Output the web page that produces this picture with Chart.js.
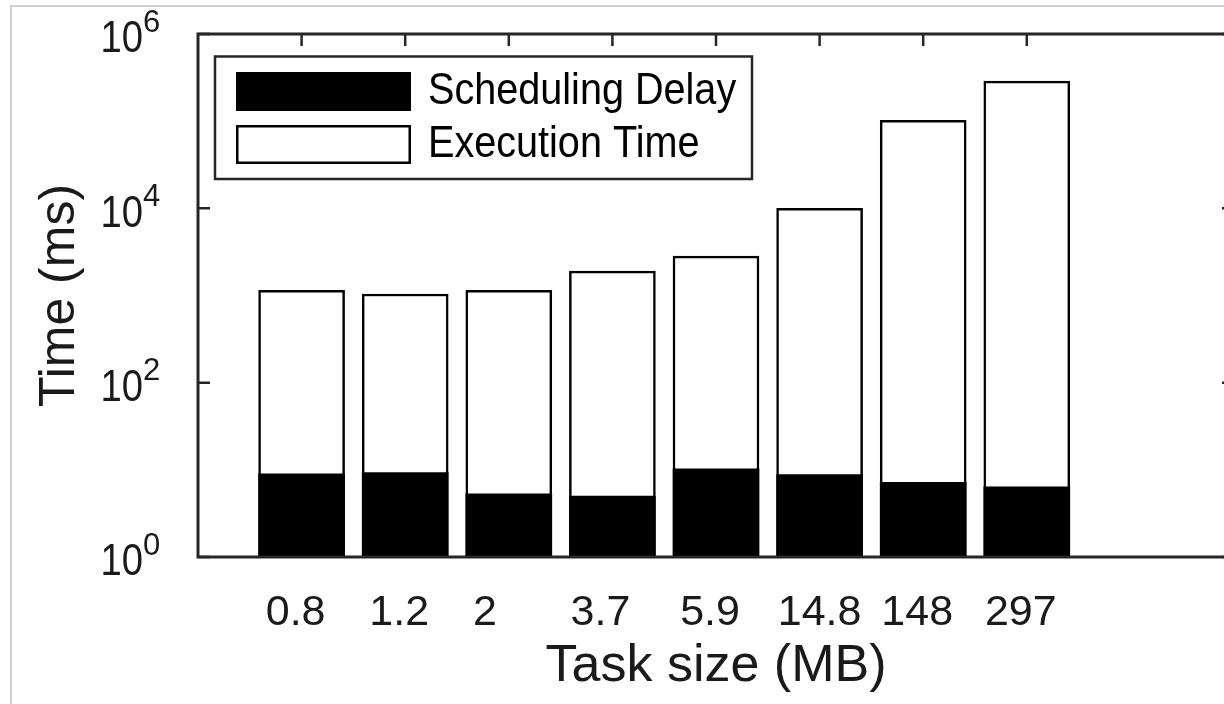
<!DOCTYPE html>
<html>
<head>
<meta charset="utf-8">
<title>Scheduling delay vs execution time</title>
<script src="https://cdn.jsdelivr.net/npm/chart.js@4.4.1/dist/chart.umd.min.js"></script>
<style>
  html, body { margin: 0; padding: 0; background: #fff; overflow: hidden; }
  #wrap { position: relative; width: 1224px; height: 704px; overflow: hidden; }
  #page-edge { position: absolute; left: 10px; top: 5px; right: -20px; bottom: -20px;
               border-left: 2px solid #d0d0d0; border-top: 2px solid #d0d0d0; pointer-events: none; }
  canvas { position: absolute; left: 0; top: 0; }
</style>
</head>
<body>
<div id="wrap">
  <canvas id="chart" width="1250" height="704"></canvas>
  <div id="page-edge"></div>
</div>
<script>
// Task sizes (MB) shown under each bar
const taskSizes = ['0.8 ', '1.2 ', '2    ', '3.7  ', '5.9 ', '14.8', '148 ', '297 '];
// Bar slot of each task size along the x axis
const slots = [1, 2, 3, 4, 5, 6, 7, 8];
// Scheduling delay per task (ms)
const schedulingDelay = [9.0, 9.3, 5.3, 5.0, 10.3, 8.8, 7.2, 6.4];
// Execution time per task (ms)
const executionTime = [1150, 1040, 1150, 1900, 2830, 10000, 102000, 288000];
// Decade exponents labelled on the time axis
const yTickExponents = [0, 2, 4, 6];

const FONT = '"Liberation Sans", Arial, Helvetica, sans-serif';
const TEXT = '#1a1a1a';
const AXIS = '#262626';

// Box around the plot with inward tick marks
const frameTicks = {
  id: 'frameTicks',
  afterDatasetsDraw(chart) {
    const { ctx, chartArea: a, scales: { x, y } } = chart;
    ctx.save();
    ctx.strokeStyle = AXIS;
    ctx.lineWidth = 3;
    ctx.strokeRect(a.left, a.top, a.right - a.left, a.bottom - a.top);
    ctx.lineWidth = 2.5;
    ctx.beginPath();
    slots.forEach(v => {
      const px = x.getPixelForValue(v);
      ctx.moveTo(px, a.top); ctx.lineTo(px, a.top + 12);
    });
    yTickExponents.forEach(e => {
      const py = y.getPixelForValue(Math.pow(10, e));
      ctx.moveTo(a.left, py); ctx.lineTo(a.left + 12, py);
      ctx.moveTo(a.right, py); ctx.lineTo(a.right - 12, py);
    });
    ctx.stroke();
    ctx.restore();
  },
  afterDraw(chart) {
    const { ctx, scales: { y } } = chart;
    ctx.save();
    ctx.fillStyle = TEXT;
    // power-of-ten labels: a slightly narrow "10" with a raised exponent
    yTickExponents.forEach(e => {
      const py = y.getPixelForValue(Math.pow(10, e));
      ctx.save();
      ctx.translate(143, py + 6);
      ctx.scale(0.85, 1);
      ctx.font = '45px ' + FONT;
      ctx.textAlign = 'right';
      ctx.textBaseline = 'middle';
      ctx.fillText('10', 0, 0);
      ctx.restore();
      ctx.font = '31px ' + FONT;
      ctx.textAlign = 'left';
      ctx.textBaseline = 'middle';
      ctx.fillText(String(e), 143, py - 11);
    });
    ctx.restore();
  }
};

// Framed legend in the upper-left corner of the plot
const boxedLegend = {
  id: 'boxedLegend',
  afterDraw(chart) {
    const { ctx } = chart;
    const ds = chart.data.datasets;
    ctx.save();
    ctx.strokeStyle = AXIS;
    ctx.lineWidth = 2.5;
    ctx.fillStyle = '#fff';
    ctx.fillRect(215, 56.5, 537, 122.5);
    ctx.strokeRect(215, 56.5, 537, 122.5);
    const rows = [91.5, 144.5];
    ds.forEach((d, i) => {
      const cy = rows[i];
      ctx.fillStyle = d.backgroundColor;
      ctx.fillRect(236, cy - 19.5, 175, 39);
      if (d.borderWidth) {
        ctx.lineWidth = d.borderWidth;
        ctx.strokeStyle = d.borderColor;
        ctx.strokeRect(236 + 1.25, cy - 19.5 + 1.25, 175 - 2.5, 39 - 2.5);
      }
      ctx.save();
      ctx.translate(428, cy);
      ctx.scale(0.9, 1);
      ctx.fillStyle = '#000';
      ctx.font = '44px ' + FONT;
      ctx.textAlign = 'left';
      ctx.textBaseline = 'middle';
      ctx.fillText(d.label, 0, 0);
      ctx.restore();
    });
    ctx.restore();
  }
};

new Chart(document.getElementById('chart'), {
  type: 'bar',
  data: {
    datasets: [
      {
        label: 'Scheduling Delay',
        data: slots.map((s, i) => ({ x: s, y: schedulingDelay[i] })),
        backgroundColor: '#000000',
        borderWidth: 0,
        barThickness: 86,
        grouped: false
      },
      {
        label: 'Execution Time',
        data: slots.map((s, i) => ({ x: s, y: executionTime[i] })),
        backgroundColor: '#ffffff',
        borderColor: '#000000',
        borderWidth: 2.5,
        borderSkipped: 'start',
        barThickness: 86,
        grouped: false
      }
    ]
  },
  options: {
    responsive: false,
    animation: false,
    devicePixelRatio: 1,
    layout: { padding: { left: 0, right: 16, top: 34, bottom: 0 } },
    plugins: { legend: { display: false }, tooltip: { enabled: false } },
    scales: {
      x: {
        type: 'linear',
        offset: false,
        min: 0,
        max: 10,
        grid: { display: false },
        border: { display: false },
        afterBuildTicks(scale) { scale.ticks = slots.map(v => ({ value: v })); },
        afterFit(scale) { scale.height = 147; },
        ticks: {
          autoSkip: false,
          maxRotation: 0,
          padding: 22,
          color: TEXT,
          font: { family: FONT, size: 43 },
          callback: (v) => taskSizes[slots.indexOf(v)]
        },
        title: {
          display: true,
          text: 'Task size (MB)',
          color: TEXT,
          font: { family: FONT, size: 52 },
          padding: { top: 0, bottom: 6 }
        }
      },
      y: {
        type: 'logarithmic',
        min: 1,
        max: 1e6,
        grid: { display: false },
        border: { display: false },
        ticks: { display: false },
        afterFit(scale) { scale.width = 198; },
        title: {
          display: true,
          text: 'Time (ms)',
          color: TEXT,
          font: { family: FONT, size: 50 },
          padding: { top: 30, bottom: 0 }
        }
      }
    }
  },
  plugins: [frameTicks, boxedLegend]
});
</script>
</body>
</html>
